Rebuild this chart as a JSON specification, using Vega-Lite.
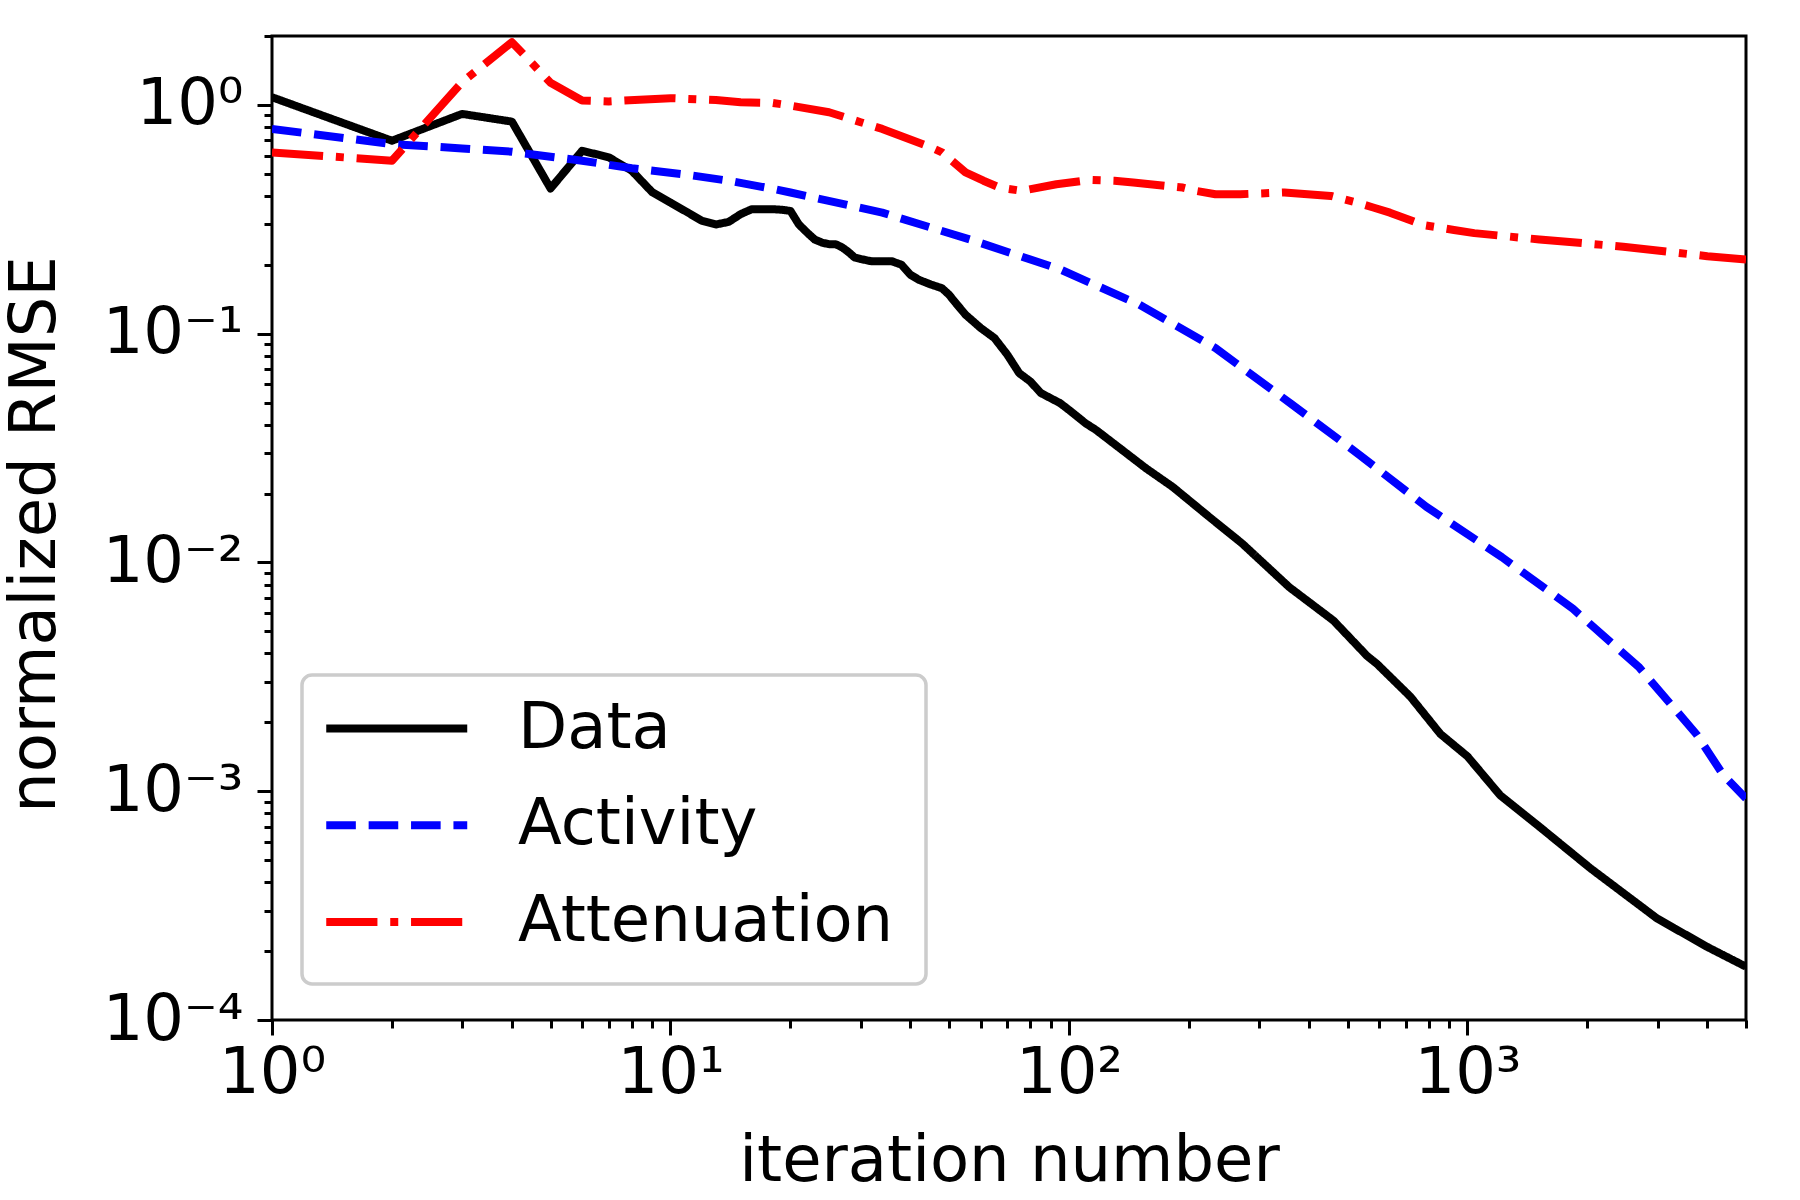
{
  "$schema": "https://vega.github.io/schema/vega-lite/v6.json",
  "width": 1474,
  "height": 984,
  "autosize": {"type": "none"},
  "padding": {"left": 272, "top": 36, "right": 54, "bottom": 180},
  "background": "white",
  "config": {"font": "DejaVu Sans", "view": {"stroke": "black", "strokeWidth": 3}},
  "data": {"values": [
    {"iter":1,"rmse":1.08,"series":"Data"},
    {"iter":2,"rmse":0.697,"series":"Data"},
    {"iter":3,"rmse":0.913,"series":"Data"},
    {"iter":4,"rmse":0.845,"series":"Data"},
    {"iter":5,"rmse":0.431,"series":"Data"},
    {"iter":6,"rmse":0.63,"series":"Data"},
    {"iter":7,"rmse":0.59,"series":"Data"},
    {"iter":8,"rmse":0.515,"series":"Data"},
    {"iter":9,"rmse":0.415,"series":"Data"},
    {"iter":10,"rmse":0.374,"series":"Data"},
    {"iter":11,"rmse":0.34,"series":"Data"},
    {"iter":12,"rmse":0.311,"series":"Data"},
    {"iter":13,"rmse":0.30,"series":"Data"},
    {"iter":14,"rmse":0.308,"series":"Data"},
    {"iter":15,"rmse":0.333,"series":"Data"},
    {"iter":16,"rmse":0.35,"series":"Data"},
    {"iter":17,"rmse":0.35,"series":"Data"},
    {"iter":18,"rmse":0.35,"series":"Data"},
    {"iter":19,"rmse":0.348,"series":"Data"},
    {"iter":20,"rmse":0.344,"series":"Data"},
    {"iter":21,"rmse":0.30,"series":"Data"},
    {"iter":22,"rmse":0.277,"series":"Data"},
    {"iter":23,"rmse":0.258,"series":"Data"},
    {"iter":24,"rmse":0.25,"series":"Data"},
    {"iter":25,"rmse":0.246,"series":"Data"},
    {"iter":26,"rmse":0.246,"series":"Data"},
    {"iter":27,"rmse":0.238,"series":"Data"},
    {"iter":28,"rmse":0.227,"series":"Data"},
    {"iter":29,"rmse":0.215,"series":"Data"},
    {"iter":30,"rmse":0.212,"series":"Data"},
    {"iter":32,"rmse":0.207,"series":"Data"},
    {"iter":34,"rmse":0.207,"series":"Data"},
    {"iter":36,"rmse":0.207,"series":"Data"},
    {"iter":38,"rmse":0.2,"series":"Data"},
    {"iter":40,"rmse":0.181,"series":"Data"},
    {"iter":42,"rmse":0.172,"series":"Data"},
    {"iter":45,"rmse":0.164,"series":"Data"},
    {"iter":48,"rmse":0.158,"series":"Data"},
    {"iter":50,"rmse":0.148,"series":"Data"},
    {"iter":52,"rmse":0.136,"series":"Data"},
    {"iter":55,"rmse":0.121,"series":"Data"},
    {"iter":60,"rmse":0.106,"series":"Data"},
    {"iter":65,"rmse":0.0957,"series":"Data"},
    {"iter":70,"rmse":0.081,"series":"Data"},
    {"iter":75,"rmse":0.0672,"series":"Data"},
    {"iter":80,"rmse":0.0618,"series":"Data"},
    {"iter":85,"rmse":0.055,"series":"Data"},
    {"iter":90,"rmse":0.0522,"series":"Data"},
    {"iter":95,"rmse":0.0497,"series":"Data"},
    {"iter":100,"rmse":0.0464,"series":"Data"},
    {"iter":110,"rmse":0.0406,"series":"Data"},
    {"iter":117,"rmse":0.0379,"series":"Data"},
    {"iter":136,"rmse":0.031,"series":"Data"},
    {"iter":156,"rmse":0.0258,"series":"Data"},
    {"iter":182,"rmse":0.0214,"series":"Data"},
    {"iter":225,"rmse":0.0158,"series":"Data"},
    {"iter":272,"rmse":0.0121,"series":"Data"},
    {"iter":357,"rmse":0.0078,"series":"Data"},
    {"iter":461,"rmse":0.00557,"series":"Data"},
    {"iter":560,"rmse":0.0039,"series":"Data"},
    {"iter":593,"rmse":0.0036,"series":"Data"},
    {"iter":719,"rmse":0.00259,"series":"Data"},
    {"iter":855,"rmse":0.00178,"series":"Data"},
    {"iter":1000,"rmse":0.00142,"series":"Data"},
    {"iter":1208,"rmse":0.00096,"series":"Data"},
    {"iter":1500,"rmse":0.00071,"series":"Data"},
    {"iter":2033,"rmse":0.000461,"series":"Data"},
    {"iter":2990,"rmse":0.000278,"series":"Data"},
    {"iter":3990,"rmse":0.000209,"series":"Data"},
    {"iter":5000,"rmse":0.000171,"series":"Data"},
    {"iter":1,"rmse":0.785,"series":"Activity"},
    {"iter":2,"rmse":0.674,"series":"Activity"},
    {"iter":3,"rmse":0.645,"series":"Activity"},
    {"iter":4,"rmse":0.624,"series":"Activity"},
    {"iter":6,"rmse":0.57,"series":"Activity"},
    {"iter":8,"rmse":0.528,"series":"Activity"},
    {"iter":11,"rmse":0.495,"series":"Activity"},
    {"iter":14,"rmse":0.466,"series":"Activity"},
    {"iter":18,"rmse":0.43,"series":"Activity"},
    {"iter":20,"rmse":0.414,"series":"Activity"},
    {"iter":34,"rmse":0.338,"series":"Activity"},
    {"iter":58,"rmse":0.254,"series":"Activity"},
    {"iter":95,"rmse":0.191,"series":"Activity"},
    {"iter":150,"rmse":0.134,"series":"Activity"},
    {"iter":233,"rmse":0.0865,"series":"Activity"},
    {"iter":360,"rmse":0.0495,"series":"Activity"},
    {"iter":536,"rmse":0.0295,"series":"Activity"},
    {"iter":789,"rmse":0.0175,"series":"Activity"},
    {"iter":1220,"rmse":0.01055,"series":"Activity"},
    {"iter":1840,"rmse":0.00627,"series":"Activity"},
    {"iter":2700,"rmse":0.00347,"series":"Activity"},
    {"iter":3760,"rmse":0.00177,"series":"Activity"},
    {"iter":4380,"rmse":0.00118,"series":"Activity"},
    {"iter":5000,"rmse":0.00093,"series":"Activity"},
    {"iter":1,"rmse":0.62,"series":"Attenuation"},
    {"iter":2,"rmse":0.57,"series":"Attenuation"},
    {"iter":3,"rmse":1.257,"series":"Attenuation"},
    {"iter":4,"rmse":1.88,"series":"Attenuation"},
    {"iter":5,"rmse":1.25,"series":"Attenuation"},
    {"iter":6,"rmse":1.045,"series":"Attenuation"},
    {"iter":7,"rmse":1.035,"series":"Attenuation"},
    {"iter":10,"rmse":1.07,"series":"Attenuation"},
    {"iter":13,"rmse":1.05,"series":"Attenuation"},
    {"iter":15,"rmse":1.027,"series":"Attenuation"},
    {"iter":18,"rmse":1.02,"series":"Attenuation"},
    {"iter":20,"rmse":0.993,"series":"Attenuation"},
    {"iter":25,"rmse":0.929,"series":"Attenuation"},
    {"iter":30,"rmse":0.84,"series":"Attenuation"},
    {"iter":34,"rmse":0.785,"series":"Attenuation"},
    {"iter":44,"rmse":0.663,"series":"Attenuation"},
    {"iter":48,"rmse":0.62,"series":"Attenuation"},
    {"iter":55,"rmse":0.507,"series":"Attenuation"},
    {"iter":61,"rmse":0.466,"series":"Attenuation"},
    {"iter":67,"rmse":0.435,"series":"Attenuation"},
    {"iter":76,"rmse":0.421,"series":"Attenuation"},
    {"iter":93,"rmse":0.45,"series":"Attenuation"},
    {"iter":113,"rmse":0.47,"series":"Attenuation"},
    {"iter":130,"rmse":0.466,"series":"Attenuation"},
    {"iter":145,"rmse":0.458,"series":"Attenuation"},
    {"iter":193,"rmse":0.435,"series":"Attenuation"},
    {"iter":208,"rmse":0.421,"series":"Attenuation"},
    {"iter":233,"rmse":0.407,"series":"Attenuation"},
    {"iter":269,"rmse":0.407,"series":"Attenuation"},
    {"iter":347,"rmse":0.414,"series":"Attenuation"},
    {"iter":454,"rmse":0.40,"series":"Attenuation"},
    {"iter":527,"rmse":0.374,"series":"Attenuation"},
    {"iter":580,"rmse":0.356,"series":"Attenuation"},
    {"iter":639,"rmse":0.338,"series":"Attenuation"},
    {"iter":777,"rmse":0.298,"series":"Attenuation"},
    {"iter":925,"rmse":0.284,"series":"Attenuation"},
    {"iter":1040,"rmse":0.275,"series":"Attenuation"},
    {"iter":1516,"rmse":0.258,"series":"Attenuation"},
    {"iter":2460,"rmse":0.24,"series":"Attenuation"},
    {"iter":4000,"rmse":0.218,"series":"Attenuation"},
    {"iter":5000,"rmse":0.211,"series":"Attenuation"}
  ]},
  "mark": {"type": "line", "strokeWidth": 8, "clip": true, "strokeCap": "butt", "strokeJoin": "round"},
  "encoding": {
    "x": {
      "field": "iter", "type": "quantitative",
      "scale": {"type": "log", "domain": [1, 5000], "nice": false},
      "axis": {
        "title": "iteration number",
        "titleFontSize": 64, "titleFontWeight": "normal", "titleColor": "black", "titleFont": "DejaVu Sans",
        "titleY": 160, "titleBaseline": "alphabetic",
        "values": [1,2,3,4,5,6,7,8,9,10,20,30,40,50,60,70,80,90,100,200,300,400,500,600,700,800,900,1000,2000,3000,4000,5000],
        "labelExpr": "datum.value==1?'10⁰':datum.value==10?'10¹':datum.value==100?'10²':datum.value==1000?'10³':''",
        "labelFontSize": 64, "labelColor": "black", "labelFont": "DejaVu Sans", "labelPadding": 6,
        "labelOverlap": false, "labelFlush": false, "labelBound": false,
        "grid": false, "domain": false,
        "tickColor": "black", "tickWidth": 3,
        "tickSize": {"condition": {"test": "indexof([1,10,100,1000], datum.value) >= 0", "value": 15}, "value": 8}
      }
    },
    "y": {
      "field": "rmse", "type": "quantitative",
      "scale": {"type": "log", "domain": [0.0001, 2], "nice": false},
      "axis": {
        "title": "normalized RMSE",
        "titleFontSize": 64, "titleFontWeight": "normal", "titleColor": "black", "titleFont": "DejaVu Sans",
        "titleX": -237, "titleY": 498, "titleAngle": -90, "titleAlign": "center", "titleBaseline": "middle",
        "values": [0.0001,0.0002,0.0003,0.0004,0.0005,0.0006,0.0007,0.0008,0.0009,0.001,0.002,0.003,0.004,0.005,0.006,0.007,0.008,0.009,0.01,0.02,0.03,0.04,0.05,0.06,0.07,0.08,0.09,0.1,0.2,0.3,0.4,0.5,0.6,0.7,0.8,0.9,1,2],
        "labelExpr": "datum.value==1?'10⁰':datum.value==0.1?'10⁻¹':datum.value==0.01?'10⁻²':datum.value==0.001?'10⁻³':datum.value==0.0001?'10⁻⁴':''",
        "labelFontSize": 64, "labelColor": "black", "labelFont": "DejaVu Sans", "labelPadding": 14,
        "labelOverlap": false, "labelFlush": false, "labelBound": false,
        "grid": false, "domain": false,
        "tickColor": "black", "tickWidth": 3,
        "tickSize": {"condition": {"test": "indexof([1,0.1,0.01,0.001,0.0001], datum.value) >= 0", "value": 15}, "value": 8}
      }
    },
    "color": {
      "field": "series", "type": "nominal",
      "scale": {"domain": ["Data", "Activity", "Attenuation"], "range": ["#000000", "#0000ff", "#ff0000"]},
      "legend": {
        "title": null, "orient": "none", "legendX": 30, "legendY": 639,
        "symbolType": "M-0.83,0H3.17M15.32,0.89", "symbolSize": 4970, "symbolStrokeWidth": 8,
        "labelFontSize": 64, "labelFont": "DejaVu Sans", "labelColor": "black", "labelOffset": 123, "labelLimit": 1000,
        "rowPadding": 9.8, "padding": 14,
        "fillColor": "white", "strokeColor": "#cccccc", "cornerRadius": 10,
        "encode": {"legend": {"update": {"strokeWidth": {"value": 3.5}}}}
      }
    },
    "strokeDash": {
      "field": "series", "type": "nominal",
      "scale": {"domain": ["Data", "Activity", "Attenuation"], "range": [[1, 0], [29.6, 12.8], [51.2, 12.8, 8, 12.8]]},
      "legend": {
        "title": null, "orient": "none", "legendX": 30, "legendY": 639,
        "symbolType": "M-0.83,0H3.17M15.32,0.89", "symbolSize": 4970, "symbolStrokeWidth": 8,
        "labelFontSize": 64, "labelFont": "DejaVu Sans", "labelColor": "black", "labelOffset": 123, "labelLimit": 1000,
        "rowPadding": 9.8, "padding": 14,
        "fillColor": "white", "strokeColor": "#cccccc", "cornerRadius": 10
      }
    }
  }
}
